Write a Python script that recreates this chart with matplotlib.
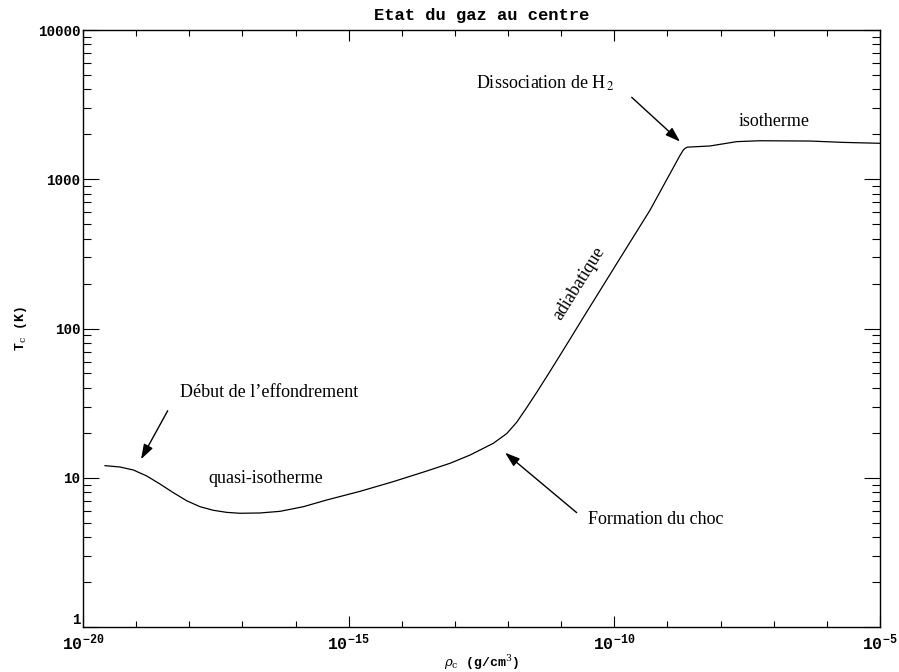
import numpy as np
import matplotlib
matplotlib.use("Agg")
import matplotlib.pyplot as plt
from matplotlib.transforms import ScaledTranslation

# log10 of central density (g/cm^3) and log10 of central temperature (K)
log_rho = [-19.586, -19.304, -19.053, -18.801, -18.551, -18.300, -18.049, -17.798,
           -17.547, -17.295, -17.045, -16.669, -16.292, -15.853, -15.413, -14.786,
           -14.160, -13.531, -13.092, -12.716, -12.277, -12.025, -11.837, -11.649,
           -11.461, -11.210, -10.896, -10.584, -9.960, -9.330, -8.764, -8.701,
           -8.669, -8.626, -8.199, -7.697, -7.258, -6.317, -5.690, -5.012]
log_T = [1.081, 1.072, 1.052, 1.012, 0.958, 0.900, 0.846, 0.806,
         0.782, 0.768, 0.762, 0.764, 0.775, 0.806, 0.851, 0.909,
         0.974, 1.045, 1.097, 1.152, 1.231, 1.296, 1.372, 1.470,
         1.572, 1.713, 1.893, 2.074, 2.432, 2.792, 3.160, 3.196,
         3.207, 3.215, 3.223, 3.252, 3.258, 3.256, 3.247, 3.241]

rho = 10.0 ** np.array(log_rho)
T = 10.0 ** np.array(log_T)

xticks = [1e-20, 1e-15, 1e-10, 1e-5]
xticklabels = [r"$\mathregular{10^{-20}}$", r"$\mathregular{10^{-15}}$",
               r"$\mathregular{10^{-10}}$", r"$\mathregular{10^{-5}}$"]
yticks = [1, 10, 100, 1000, 10000]
yticklabels = ["1", "10", "100", "1000", "10000"]

plt.rcParams["font.family"] = ["Liberation Mono", "DejaVu Sans"]
plt.rcParams["mathtext.fontset"] = "custom"
plt.rcParams["mathtext.rm"] = "Liberation Mono:bold"
plt.rcParams["mathtext.it"] = "Liberation Mono:bold"
plt.rcParams["mathtext.bf"] = "Liberation Mono:bold"

fig = plt.figure(figsize=(8.99, 6.72), dpi=100)
ax = fig.add_axes([83 / 899, 1 - 627 / 672, (880 - 83) / 899, (627 - 30) / 672])

ax.plot(rho, T, color="black", lw=0.9)
ax.set_xscale("log")
ax.set_yscale("log")
ax.set_xlim(1e-20, 1e-5)
ax.set_ylim(1, 10000)

ax.set_xticks(xticks)
ax.set_xticklabels(xticklabels, fontsize=12, fontweight="bold")
ax.set_xticks([10.0 ** k for k in range(-20, -4) if k % 5 != 0], minor=True)
ax.xaxis.set_minor_formatter(matplotlib.ticker.NullFormatter())
ax.set_yticks(yticks)
ax.set_yticklabels(yticklabels, fontsize=10.3, fontweight="bold")
ax.yaxis.set_minor_locator(matplotlib.ticker.LogLocator(base=10, subs=np.arange(2, 10)))
ax.yaxis.set_minor_formatter(matplotlib.ticker.NullFormatter())

ax.tick_params(axis="both", which="both", direction="in", top=True, right=True,
               width=0.8, color="black")
ax.tick_params(axis="x", which="major", length=8, pad=4)
ax.tick_params(axis="x", which="minor", length=4)
ax.tick_params(axis="y", which="major", length=11.5, pad=2)
ax.tick_params(axis="y", which="minor", length=5.5)
for s in ax.spines.values():
    s.set_linewidth(1.0)

# lift the bottom "1" label slightly, as in the reference
lbl = ax.get_yticklabels()[0]
lbl.set_transform(lbl.get_transform() + ScaledTranslation(0, 6 / 72, fig.dpi_scale_trans))

ax.set_title("Etat du gaz au centre", fontsize=12.3, fontweight="bold", pad=7)
ax.set_xlabel(r"$\rho_{\rm c}$ (g/cm$^3$)", fontsize=9.5, fontweight="bold", labelpad=0,
              math_fontfamily="dejavuserif")
ax.set_ylabel(r"T$_{\rm c}$ (K)", fontsize=9.5, fontweight="bold", labelpad=6,
              math_fontfamily="dejavuserif")

afont = dict(family=["Liberation Serif"], fontsize=13, fontweight="normal")
arrow = dict(arrowstyle="-|>,head_length=0.9,head_width=0.3", color="black",
             fc="black", lw=1.0, shrinkA=0, shrinkB=0)

L = lambda v: 10.0 ** v

ax.text(L(-18.174), L(1.568), "Début de l’effondrement", ha="left", va="center", **afont)
ax.annotate("", xy=(L(-18.908), L(1.124)), xytext=(L(-18.406), L(1.449)), arrowprops=arrow)

ax.text(L(-16.556), L(0.998), "quasi-isotherme", ha="center", va="center", **afont)

ax.text(L(-10.495), L(0.717), "Formation du choc", ha="left", va="center", **afont)
ax.annotate("", xy=(L(-12.057), L(1.168)), xytext=(L(-10.708), L(0.766)), arrowprops=arrow)

ax.text(L(-12.603), L(3.645), r"Dissociation de H$_{\,2}$", ha="left", va="center",
        math_fontfamily="stix", **afont)
ax.annotate("", xy=(L(-8.763), L(3.252)), xytext=(L(-9.673), L(3.549)), arrowprops=arrow)

ax.text(L(-6.985), L(3.386), "isotherme", ha="center", va="center", **afont)

ax.text(L(-10.665), L(2.305), "adiabatique", ha="center", va="center", rotation=58,
        rotation_mode="anchor", **afont)

fig.savefig("out.png", dpi=100)
